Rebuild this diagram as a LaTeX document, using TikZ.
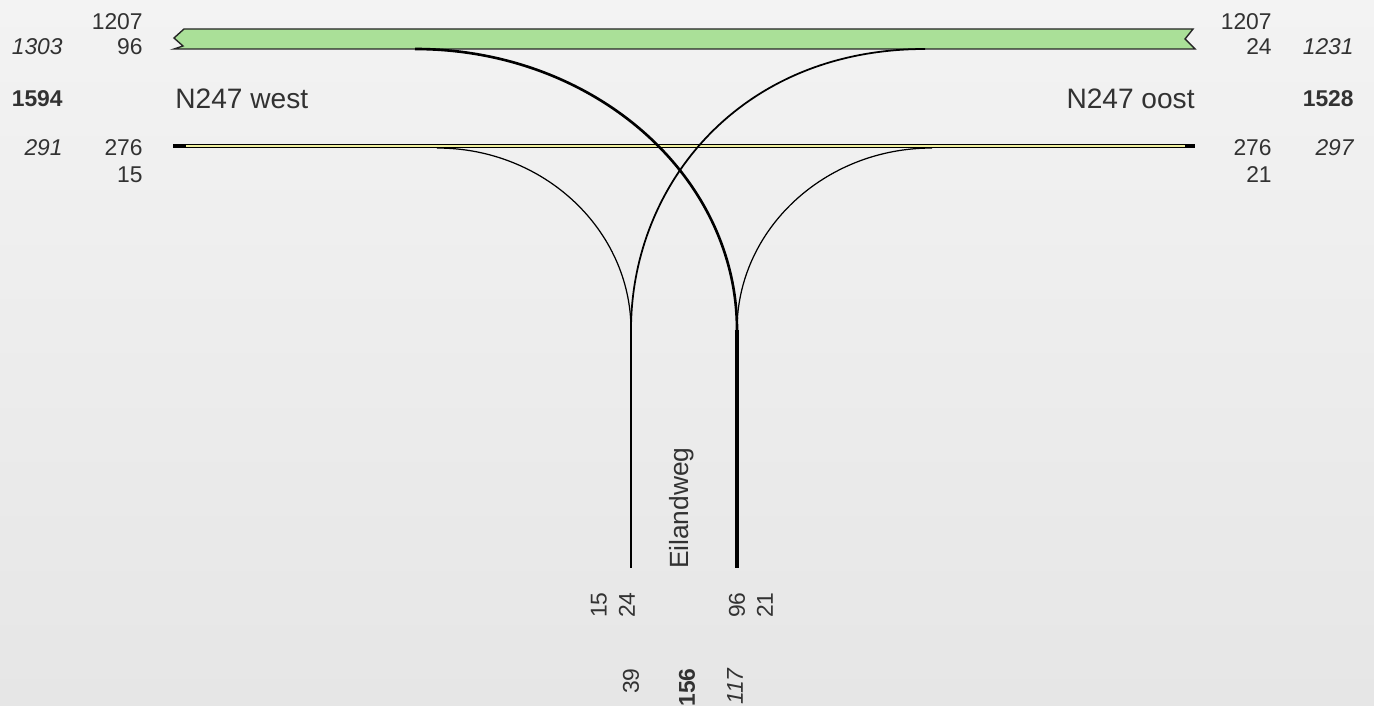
\documentclass[tikz,border=0pt]{standalone}
\usepackage{fontspec}
\setmainfont{Liberation Sans}
\usepackage{tikz}
\usetikzlibrary{positioning,calc}
\definecolor{bandgreen}{RGB}{170,224,152}
\definecolor{lineyellow}{RGB}{240,240,160}
\definecolor{txtgray}{RGB}{50,50,50}
\definecolor{bgtop}{RGB}{243,243,243}
\definecolor{bgbot}{RGB}{230,230,230}

\begin{document}
\begin{tikzpicture}[x=0.02cm, y=-0.02cm,
        num/.style={inner sep=0pt, text=txtgray, font=\fontsize{13}{15}\selectfont, anchor=east},
        numit/.style={num, font=\fontsize{13}{15}\selectfont\itshape},
        numbf/.style={num, font=\fontsize{13}{15}\selectfont\bfseries},
        roadname/.style={inner sep=0pt, text=txtgray, font=\fontsize{16}{18}\selectfont},
        vnum/.style={num, rotate=90},
        flow/.style={draw=black, line width=0.7pt},
        flowthick/.style={draw=black, line width=1.5pt}
    ]
        % achtergrond
        \shade[top color=bgtop, bottom color=bgbot] (0,0) rectangle (1374,706);
        \useasboundingbox (0,0) rectangle (1374,706);

        % hoofdrijbaan boven (groen)
        \filldraw[fill=bandgreen, draw=black!85, line width=0.8pt]
            (184,29) -- (1193,29) -- (1185,39) -- (1195,49) -- (174,49) -- (183,46) -- (174,38) -- cycle;

        % rijbaan onder
        \coordinate (lw) at (173,146);
        \coordinate (lo) at (1195,146);
        \draw[black, line width=2.2pt] (lw) -- (lo);
        \draw[lineyellow, line width=0.7pt] (186,146) -- (1185,146);

        % aansluitpunten
        \coordinate (tw) at (415,49);
        \coordinate (to) at (925,49);
        \coordinate (bw) at (437,148);
        \coordinate (bo) at (932,148);
        \coordinate (sw) at (631,330);
        \coordinate (so) at (737,330);
        \coordinate (ew) at (631,568);
        \coordinate (eo) at (737,568);

        % bochten
        \draw[flowthick] (tw) .. controls +(178,0) and +(0,-155) .. (so);
        \draw[flow, line width=1pt] (to) .. controls +(-185,0) and +(0,-145) .. (sw);
        \draw[flow] (bw) .. controls +(107,0) and +(0,-100) .. (sw);
        \draw[flow] (bo) .. controls +(-108,0) and +(0,-100) .. (so);

        % Eilandweg
        \draw[flow, line width=1pt] (sw) -- (ew);
        \draw[flowthick, line width=1.8pt] (so) -- (eo);

        % teksten west
        \node[num] (w1) at (143,22) {1207};
        \node[num] (w2) at (143,47) {96};
        \node[numit] (w3) at (63,47) {1303};
        \node[numbf] (w4) at (63,99) {1594};
        \node[roadname, anchor=west] (nw) at (175,99) {N247 west};
        \node[numit] (w5) at (63,148) {291};
        \node[num] (w6) at (143,148) {276};
        \node[num] (w7) at (143,175) {15};

        % teksten oost
        \node[num] (o1) at (1272,22) {1207};
        \node[num] (o2) at (1272,47) {24};
        \node[numit] (o3) at (1354,47) {1231};
        \node[numbf] (o4) at (1354,99) {1528};
        \node[roadname, anchor=east] (no) at (1195,99) {N247 oost};
        \node[num] (o5) at (1272,148) {276};
        \node[numit] (o6) at (1354,148) {297};
        \node[num] (o7) at (1272,175) {21};

        % teksten zuid
        \node[roadname, font=\fontsize{15}{17}\selectfont, rotate=90, anchor=east] (ns) at (682,447) {Eilandweg};
        \node[vnum] (z1) at (599,592) {15};
        \node[vnum] (z2) at (627,592) {24};
        \node[vnum] (z3) at (737,592) {96};
        \node[vnum] (z4) at (765,592) {21};
        \node[vnum] (z5) at (631,668) {39};
        \node[vnum, font=\fontsize{13}{15}\selectfont\bfseries] (z6) at (687,668) {156};
        \node[vnum, font=\fontsize{13}{15}\selectfont\itshape] (z7) at (735,668) {117};
\end{tikzpicture}
\end{document}
